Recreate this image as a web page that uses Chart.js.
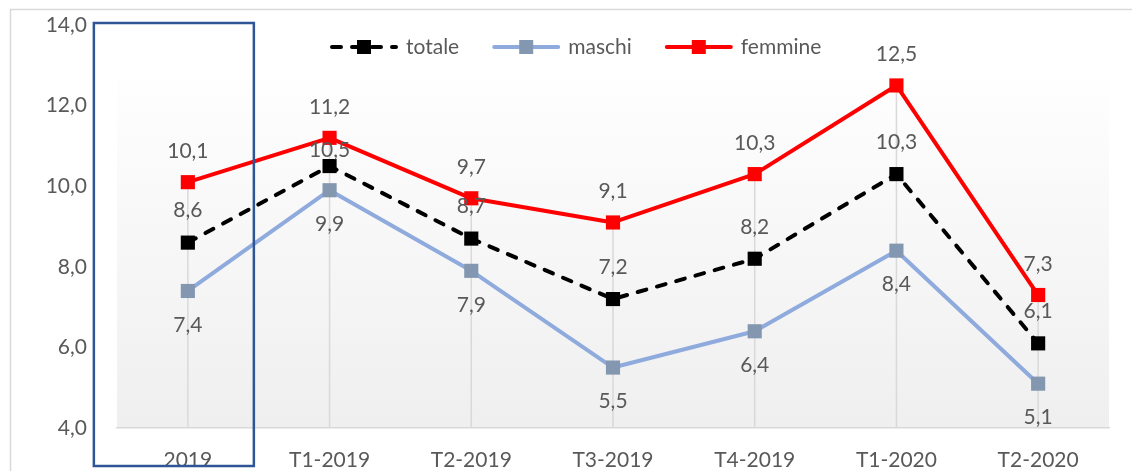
<!DOCTYPE html>
<html>
<head>
<meta charset="utf-8">
<title>totale maschi femmine</title>
<script src="https://cdn.jsdelivr.net/npm/chart.js@4.4.1/dist/chart.umd.min.js"></script>
<style>
  html, body { margin: 0; padding: 0; background: #fff; }
  #chart { display: block; }
</style>
</head>
<body>
<canvas id="chart" width="1132" height="471"></canvas>
<script>
// chart values
const categories = ['2019', 'T1-2019', 'T2-2019', 'T3-2019', 'T4-2019', 'T1-2020', 'T2-2020'];
const totale  = [8.6, 10.5, 8.7, 7.2, 8.2, 10.3, 6.1];
const maschi  = [7.4, 9.9, 7.9, 5.5, 6.4, 8.4, 5.1];
const femmine = [10.1, 11.2, 9.7, 9.1, 10.3, 12.5, 7.3];
const yTicks  = [4, 6, 8, 10, 12, 14];

const textColor = '#595959';
const fontFamily = 'Lato, "Open Sans", sans-serif';

const fmt = v => v.toFixed(1).replace('.', ',');

// background, frame, drop lines, labels, legend, highlight box
const decor = {
    id: 'decor',
    beforeDraw(chart) {
        const ctx = chart.ctx;
        const a = chart.chartArea;
        ctx.save();
        // outer frame
        ctx.strokeStyle = '#d9d9d9';
        ctx.lineWidth = 1.5;
        ctx.beginPath();
        ctx.moveTo(10.5, chart.height);
        ctx.lineTo(10.5, 9.5);
        ctx.lineTo(chart.width, 9.5);
        ctx.stroke();
        // plot area gradient
        const gTop = a.top + 54;
        const g = ctx.createLinearGradient(0, gTop, 0, a.bottom);
        g.addColorStop(0, '#fefefe');
        g.addColorStop(1, '#efefef');
        ctx.fillStyle = g;
        ctx.fillRect(a.left, gTop, a.right - a.left, a.bottom - gTop);
        ctx.restore();
    },
    beforeDatasetsDraw(chart) {
        const ctx = chart.ctx;
        const xs = chart.scales.x, ys = chart.scales.y;
        ctx.save();
        ctx.strokeStyle = '#d9d9d9';
        ctx.lineWidth = 1.5;
        categories.forEach((c, i) => {
            const top = Math.max(totale[i], maschi[i], femmine[i]);
            const x = xs.getPixelForValue(i);
            ctx.beginPath();
            ctx.moveTo(x, ys.getPixelForValue(top));
            ctx.lineTo(x, chart.chartArea.bottom);
            ctx.stroke();
        });
        ctx.restore();
    },
    afterDatasetsDraw(chart) {
        const ctx = chart.ctx;
        ctx.save();
        ctx.font = '21px ' + fontFamily;
        ctx.fillStyle = textColor;
        ctx.textAlign = 'center';
        ctx.textBaseline = 'middle';
        chart.data.datasets.forEach((ds, di) => {
            const meta = chart.getDatasetMeta(di);
            meta.data.forEach((pt, i) => {
                let off = ds.labelOffset;
                if (ds.label === 'totale' && i === 1) off = -16;
                ctx.fillText(fmt(ds.data[i]), pt.x, pt.y + off);
            });
        });

        // legend
        const ly = 47;
        let lx = 330;
        ctx.textAlign = 'left';
        chart.data.datasets.forEach(ds => {
            ctx.save();
            ctx.strokeStyle = ds.borderColor;
            ctx.lineWidth = 4;
            ctx.lineCap = 'round';
            ctx.setLineDash(ds.borderDash || []);
            ctx.beginPath();
            ctx.moveTo(lx + 2, ly);
            ctx.lineTo(lx + 66, ly);
            ctx.stroke();
            ctx.restore();
            ctx.fillStyle = ds.pointBackgroundColor;
            ctx.fillRect(lx + 27, ly - 7, 14, 14);
            ctx.fillStyle = textColor;
            ctx.fillText(ds.label, lx + 76, ly);
            lx += 76 + ctx.measureText(ds.label).width + 33;
        });

        // highlight box around first category
        const x0 = chart.scales.x.getPixelForValue(0);
        const yTop = chart.scales.y.getPixelForValue(14);
        ctx.strokeStyle = '#2f5597';
        ctx.lineWidth = 2.5;
        ctx.strokeRect(x0 - 94, yTop - 2, 160, chart.height - 5 - (yTop - 2));
        ctx.restore();
    }
};

new Chart(document.getElementById('chart'), {
    type: 'line',
    data: {
        labels: categories,
        datasets: [
            {
                label: 'totale',
                data: totale,
                borderColor: '#000000',
                borderWidth: 4,
                borderDash: [9, 11],
                borderCapStyle: 'round',
                pointStyle: 'rect',
                pointRadius: 10,
                pointBorderWidth: 0,
                pointBackgroundColor: '#000000',
                labelOffset: -32
            },
            {
                label: 'maschi',
                data: maschi,
                borderColor: '#8faadc',
                borderWidth: 4,
                pointStyle: 'rect',
                pointRadius: 10,
                pointBorderWidth: 0,
                pointBackgroundColor: '#8497b0',
                labelOffset: 34
            },
            {
                label: 'femmine',
                data: femmine,
                borderColor: '#ff0000',
                borderWidth: 4,
                pointStyle: 'rect',
                pointRadius: 10,
                pointBorderWidth: 0,
                pointBackgroundColor: '#ff0000',
                labelOffset: -31
            }
        ]
    },
    options: {
        responsive: false,
        animation: false,
        devicePixelRatio: 1,
        layout: { padding: { top: 25, right: 23, bottom: 0, left: 0 } },
        elements: { line: { tension: 0, borderJoinStyle: 'round' } },
        plugins: {
            legend: { display: false },
            tooltip: { enabled: false }
        },
        scales: {
            x: {
                offset: true,
                grid: { display: false, drawTicks: false },
                border: { display: true, color: '#d9d9d9', width: 1.5 },
                ticks: { color: textColor, font: { family: fontFamily, size: 21 }, padding: 20, maxRotation: 0 },
                afterFit: s => { s.height = 43; }
            },
            y: {
                min: 4,
                max: 14,
                grid: { display: false, drawTicks: false },
                border: { display: false },
                afterBuildTicks: s => { s.ticks = yTicks.map(v => ({ value: v })); },
                ticks: {
                    color: textColor,
                    font: { family: fontFamily, size: 21 },
                    padding: 30,
                    callback: v => fmt(v)
                },
                afterFit: s => {
                    s.width = 117;
                    s.paddingTop = 0;
                    s.paddingBottom = 0;
                }
            }
        }
    },
    plugins: [decor]
});
</script>
</body>
</html>
